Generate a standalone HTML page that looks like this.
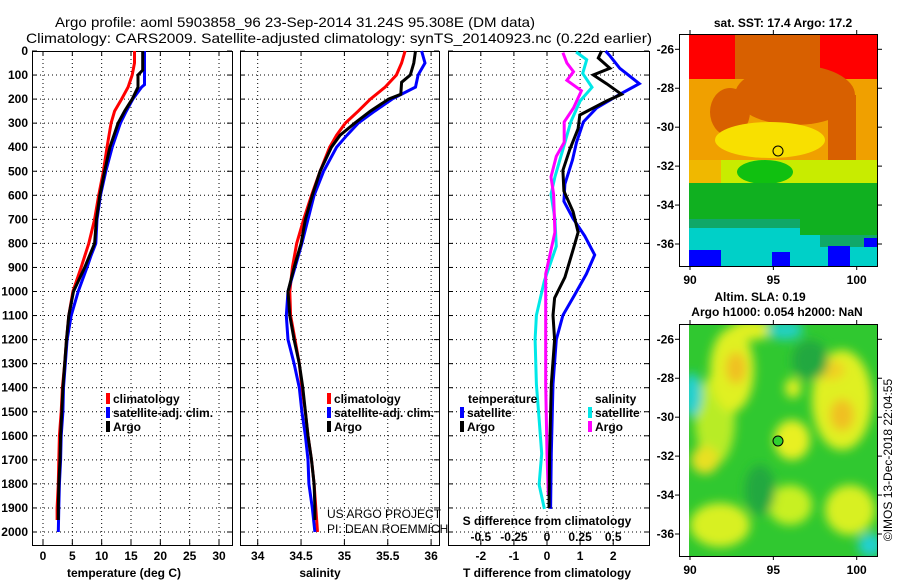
<!DOCTYPE html>
<html><head><meta charset="utf-8"><style>
html,body{margin:0;padding:0;background:#fff;}
svg{display:block;font-family:"Liberation Sans",sans-serif;}
.tk{font-size:12px;font-weight:bold;fill:#000;}
.lg{font-size:12px;font-weight:bold;fill:#000;}
</style></head><body>
<svg id="chart" width="900" height="580" viewBox="0 0 900 580" xmlns="http://www.w3.org/2000/svg">
<defs><filter id="bl" x="-20%" y="-20%" width="140%" height="140%"><feGaussianBlur stdDeviation="5"/></filter>
<clipPath id="cm1"><rect x="689" y="35" width="188" height="231"/></clipPath>
<clipPath id="cm2"><rect x="689" y="325" width="188" height="231"/></clipPath></defs>
<rect width="900" height="580" fill="#fff"/>
<text x="55" y="27" font-size="14" textLength="480" lengthAdjust="spacingAndGlyphs">Argo profile: aoml 5903858_96 23-Sep-2014 31.24S 95.308E (DM data)</text>
<text x="26" y="43" font-size="14" textLength="626" lengthAdjust="spacingAndGlyphs">Climatology: CARS2009. Satellite-adjusted climatology: synTS_20140923.nc (0.22d earlier)</text>

<!-- top map -->
<g clip-path="url(#cm1)">
<rect x="689" y="35" width="188" height="231" fill="#f0a000"/>
<rect x="689" y="35" width="188" height="44" fill="#ff0000"/>
<rect x="735" y="35" width="85" height="44" fill="#d86000"/>
<ellipse cx="795" cy="95" rx="60" ry="30" fill="#d86000"/>
<ellipse cx="730" cy="112" rx="20" ry="24" fill="#d86000"/>
<rect x="828" y="95" width="28" height="65" fill="#d86000"/>
<ellipse cx="770" cy="140" rx="55" ry="18" fill="#f8e000"/>
<rect x="689" y="160" width="188" height="24" fill="#c8ec00"/>
<rect x="689" y="160" width="32" height="24" fill="#f0b800"/>
<ellipse cx="765" cy="172" rx="28" ry="12" fill="#10c010"/>
<rect x="689" y="183" width="188" height="36" fill="#10b020"/>
<rect x="689" y="219" width="188" height="12" fill="#10a868"/>
<rect x="689" y="228" width="188" height="38" fill="#00d0c8"/>
<rect x="800" y="205" width="77" height="30" fill="#10b020"/>
<rect x="820" y="235" width="57" height="12" fill="#10a868"/>
<rect x="689" y="250" width="32" height="16" fill="#0000ff"/>
<rect x="772" y="252" width="18" height="14" fill="#0000ff"/>
<rect x="828" y="246" width="22" height="20" fill="#0000ff"/>
<rect x="864" y="238" width="13" height="9" fill="#0000ff"/>
</g>
<circle cx="778" cy="151" r="5" fill="none" stroke="#000" stroke-width="1"/>
<!-- bottom map -->
<g clip-path="url(#cm2)">
<rect x="689" y="325" width="188" height="231" fill="#30c830"/>
<g filter="url(#bl)">
<ellipse cx="715" cy="420" rx="20" ry="45" fill="#b8ec28"/>
<ellipse cx="732" cy="370" rx="22" ry="42" fill="#e0f020"/>
<ellipse cx="736" cy="368" rx="10" ry="16" fill="#f0c020"/>
<ellipse cx="752" cy="330" rx="22" ry="10" fill="#e0f020"/>
<ellipse cx="842" cy="400" rx="30" ry="50" fill="#e0f020"/>
<ellipse cx="842" cy="415" rx="12" ry="16" fill="#f0c020"/>
<ellipse cx="830" cy="370" rx="15" ry="10" fill="#f0d020"/>
<ellipse cx="792" cy="440" rx="18" ry="20" fill="#e8f020"/>
<ellipse cx="793" cy="388" rx="8" ry="10" fill="#e0f020"/>
<ellipse cx="720" cy="525" rx="30" ry="22" fill="#d8f020"/>
<ellipse cx="705" cy="460" rx="14" ry="14" fill="#e8e020"/>
<ellipse cx="850" cy="510" rx="25" ry="25" fill="#d8f020"/>
<ellipse cx="790" cy="505" rx="22" ry="20" fill="#c8f020"/>
<ellipse cx="760" cy="490" rx="15" ry="25" fill="#20a840"/>
<ellipse cx="810" cy="360" rx="18" ry="20" fill="#20a840"/>
<ellipse cx="692" cy="395" rx="10" ry="22" fill="#20d0d0"/>
<ellipse cx="785" cy="330" rx="18" ry="10" fill="#20d0c0"/>
<ellipse cx="870" cy="545" rx="12" ry="12" fill="#20d0d0"/>
</g></g>
<circle cx="778" cy="441" r="5" fill="#30d030" stroke="#000" stroke-width="1"/>
<g id="axes"></g>
<text x="783" y="27" font-size="12" font-weight="bold" text-anchor="middle">sat. SST: 17.4 Argo: 17.2</text>
<text x="760" y="301" font-size="12" font-weight="bold" text-anchor="middle">Altim. SLA: 0.19</text>
<text x="777" y="316" font-size="12" font-weight="bold" text-anchor="middle">Argo h1000: 0.054 h2000: NaN</text>
<text transform="translate(892,460) rotate(-90)" font-size="12" text-anchor="middle">©IMOS 13-Dec-2018 22:04:55</text>
<text x="327" y="518" font-size="12" fill="#000">US ARGO PROJECT</text>
<text x="327" y="533" font-size="12" fill="#000">PI: DEAN ROEMMICH</text>
</svg>
<script>
// ---- data ----
var tClimDepth=[0,50,100,150,200,250,300,400,500,600,700,800,900,1000,1100,1200,1300,1400,1500,1600,1700,1800,1900,1950];
var tClim=[15.6,15.6,15.2,14.5,13.4,12.2,11.6,10.9,10.3,9.5,8.8,7.8,6.5,5.1,4.4,4.0,3.7,3.3,3.1,2.8,2.7,2.6,2.4,2.4];
var tSatDepth=[0,50,100,140,150,200,250,300,400,500,600,700,800,850,900,1000,1100,1200,1300,1400,1500,1600,1700,1800,1900,2000];
var tSat=[17.3,17.3,17.3,17.3,16.8,15.3,14.2,13.2,11.8,10.7,9.8,9.2,9.0,8.2,7.5,6.0,4.8,4.1,3.8,3.5,3.4,3.1,3.0,2.8,2.7,2.6];
var tArgoDepth=[0,80,100,150,200,250,300,400,500,600,700,800,900,1000,1100,1200,1300,1400,1500,1600,1700,1800,1900,1950];
var tArgo=[17.0,17.0,16.2,16.2,15.2,13.9,12.8,11.4,10.5,9.7,9.1,8.8,7.1,5.2,4.4,4.0,3.7,3.4,3.2,3.0,2.9,2.7,2.6,2.6];
var sDepth=[0,50,100,150,200,250,300,350,400,500,600,700,800,900,1000,1100,1200,1300,1400,1500,1600,1700,1800,1900,2000];
var sClim=[35.70,35.66,35.60,35.47,35.30,35.16,35.01,34.91,34.83,34.72,34.62,34.53,34.45,34.40,34.37,34.38,34.43,34.48,34.51,34.55,34.58,34.62,34.65,34.67,34.69];
var sSat=[35.89,35.93,35.85,35.82,35.55,35.35,35.16,35.03,34.91,34.76,34.65,34.58,34.51,34.43,34.35,34.33,34.35,34.42,34.48,34.51,34.55,34.58,34.59,34.63,34.66];
var sArgoDepth=[0,50,100,130,180,200,250,300,350,400,500,600,700,800,900,1000,1100,1200,1300,1400,1500,1600,1700,1800,1900,1950];
var sArgo=[35.82,35.80,35.76,35.66,35.65,35.51,35.30,35.12,34.95,34.85,34.72,34.63,34.55,34.50,34.42,34.35,34.37,34.42,34.48,34.52,34.55,34.58,34.62,34.65,34.66,34.66];
var dTSatDepth=[0,20,72,136,180,237,295,380,453,553,625,697,769,848,927,1013,1099,1200,1386,1674,1904];
var dTSat=[1.77,1.9,2.2,2.79,2.2,1.5,1.1,0.89,0.77,0.54,0.51,0.79,1.14,1.44,1.19,0.84,0.48,0.28,0.18,0.13,0.11];
var dTArgoDepth=[0,29,72,100,136,180,208,266,323,409,496,582,668,754,826,941,1027,1099,1200,1386,1674,1900];
var dTArgo=[1.65,1.55,1.9,1.4,1.8,2.25,1.8,0.99,0.94,0.69,0.48,0.51,0.79,0.94,0.79,0.54,0.23,0.18,0.23,0.13,0.08,0.06];
var dSSatDepth=[4,36,93,151,208,295,409,524,596,697,812,955,1099,1200,1386,1530,1674,1803,1904];
var dSSat=[0.22,0.30,0.27,0.34,0.25,0.18,0.12,0.06,0.03,0.06,0.07,-0.02,-0.08,-0.09,-0.08,-0.06,-0.04,-0.06,-0.02];
var dSArgoDepth=[7,50,86,122,165,237,295,380,438,524,596,754,927,1099,1386,1674,1846];
var dSArgo=[0.12,0.15,0.20,0.15,0.26,0.20,0.13,0.13,0.07,0.03,0.05,0.06,-0.01,-0.01,-0.01,0,0.01];
var depthTicks=[0,100,200,300,400,500,600,700,800,900,1000,1100,1200,1300,1400,1500,1600,1700,1800,1900,2000];
var tTicks=[0,5,10,15,20,25,30];
var sTicks=[34,34.5,35,35.5,36];
var sTickLabels=["34","34.5","35","35.5","36"];
var dTTicks=[-2,-1,0,1,2];
var dSTicks=[-0.5,-0.25,0,0.25,0.5];
var dSTickLabels=["-0.5","-0.25","0","0.25","0.5"];
var latTicks=[-26,-28,-30,-32,-34,-36];
var lonTicks=[90,95,100];

// ---- scales ----
function yD(d){return 51+d*0.2405;}
function xT(t){return 43+t*5.867;}
function xS(s){return 257.7+(s-34)*86.7;}
function xDT(t){return 547+t*33.1;}
function xDS(s){return 547+s*132.4;}
function yLat1(l){return 49.3+(-26-l)*19.47;}
function yLat2(l){return 339.3+(-26-l)*19.47;}
function xLon(l){return 690+(l-90)*16.67;}

var NS="http://www.w3.org/2000/svg";
var root=document.getElementById('axes');
function mk(tag,at,parent){var e=document.createElementNS(NS,tag);for(var k in at)e.setAttribute(k,at[k]);(parent||root).appendChild(e);return e;}
function txt(x,y,s,cls,anchor,parent){var e=mk('text',{x:x,y:y,'class':cls,'text-anchor':anchor||'middle'},parent);e.textContent=s;return e;}

function panel(name,x0,x1,xs,xticks,xlabels,xscale,leftLabels){
  var g=mk('g',{});
  
  
  var y0=51,y1=545;
  depthTicks.forEach(function(d){
    var y=yD(d);
    if(d>0){var gl=mk('line',{x1:x0,x2:x1,y1:y,y2:y,stroke:'#000','stroke-width':1,'stroke-dasharray':'1,3'},g);
    
    }
    mk('line',{x1:x0,x2:x0+5,y1:y,y2:y,stroke:'#000'},g);
    mk('line',{x1:x1,x2:x1-5,y1:y,y2:y,stroke:'#000'},g);
    if(leftLabels){var t=txt(x0-4,y+4,String(d),'tk','end',g);
    
    }
  });
  xticks.forEach(function(v,i){
    var x=xscale(v);
    var gl=mk('line',{x1:x,x2:x,y1:y0,y2:y1,stroke:'#000','stroke-dasharray':'1,3'},g);
    
    
    mk('line',{x1:x,x2:x,y1:y1,y2:y1-5,stroke:'#000'},g);
    mk('line',{x1:x,x2:x,y1:y0,y2:y0+5,stroke:'#000'},g);
    if(xlabels){var t=txt(x,560,xlabels[i],'tk','middle',g);
    
    }
  });
  var fr=mk('rect',{x:x0+0.5,y:y0+0.5,width:x1-x0,height:y1-y0,fill:'none',stroke:'#000'},g);
  
  
  return g;
}
function line(g,name,depths,vals,xs,color,w){
  var p=depths.map(function(d,i){return xs(vals[i]).toFixed(1)+','+yD(d).toFixed(1);}).join(' ');
  var e=mk('polyline',{points:p,fill:'none',stroke:color,'stroke-width':w,'stroke-linejoin':'miter'},g);
  
  
}
function legend(g,x,y,color,label){
  var m=mk('rect',{x:x-2,y:y-6,width:4,height:11,fill:color},g);
  
  
  var t=txt(x+5,y+4,label,'lg','start',g);
  
  
}

// temperature panel
var gT=panel('temperature-panel',32,232,null,tTicks,tTicks.map(String),xT,true);
line(gT,'temperature-climatology-line',tClimDepth,tClim,xT,'#ff0000',3);
line(gT,'temperature-satellite-line',tSatDepth,tSat,xT,'#0000ff',3);
line(gT,'temperature-argo-line',tArgoDepth,tArgo,xT,'#000000',3);
legend(gT,108,399,'#ff0000','climatology');
legend(gT,108,413,'#0000ff','satellite-adj. clim.');
legend(gT,108,427,'#000000','Argo');
var a=txt(124,577,'temperature (deg C)','tk','middle',gT);



// salinity panel
var gS=panel('salinity-panel',240,439,null,sTicks,sTickLabels,xS,false);
line(gS,'salinity-climatology-line',sDepth,sClim,xS,'#ff0000',3);
line(gS,'salinity-satellite-line',sDepth,sSat,xS,'#0000ff',3);
line(gS,'salinity-argo-line',sArgoDepth,sArgo,xS,'#000000',3);
legend(gS,329,399,'#ff0000','climatology');
legend(gS,329,413,'#0000ff','satellite-adj. clim.');
legend(gS,329,427,'#000000','Argo');
a=txt(320,577,'salinity','tk','middle',gS);



// difference panel
var gD=panel('difference-panel',448,649,null,dTTicks,dTTicks.map(String),xDT,false);
line(gD,'salinity-satellite-diff-line',dSSatDepth,dSSat,xDS,'#00e8e8',3);
line(gD,'salinity-argo-diff-line',dSArgoDepth,dSArgo,xDS,'#ff00ff',3);
line(gD,'temperature-satellite-diff-line',dTSatDepth,dTSat,xDT,'#0000ff',3);
line(gD,'temperature-argo-diff-line',dTArgoDepth,dTArgo,xDT,'#000000',3);
a=txt(468,403,'temperature','lg','start',gD);


a=txt(595,403,'salinity','lg','start',gD);


legend(gD,462,413,'#0000ff','satellite');
legend(gD,462,427,'#000000','Argo');
legend(gD,590,413,'#00e8e8','satellite');
legend(gD,590,427,'#ff00ff','Argo');
a=txt(547,525,'S difference from climatology','tk','middle',gD);


dSTicks.forEach(function(v,i){
  var t=txt(xDS(v),541,dSTickLabels[i],'tk','middle',gD);
  
  
});
a=txt(547,577,'T difference from climatology','tk','middle',gD);



// map axes
function mapAxes(name,y0,y1,yl){
  var g=mk('g',{});
  
  
  var fr=mk('rect',{x:679.5,y:y0+0.5,width:198,height:y1-y0,fill:'none',stroke:'#000'},g);
  
  
  latTicks.forEach(function(l){
    var y=yl(l);
    mk('line',{x1:675,x2:680,y1:y,y2:y,stroke:'#000'},g);
    mk('line',{x1:877,x2:882,y1:y,y2:y,stroke:'#000'},g);
    var t=txt(674,y+4,String(l),'tk','end',g);
    
    
  });
  lonTicks.forEach(function(l){
    var x=xLon(l);
    mk('line',{x1:x,x2:x,y1:y1,y2:y1+4,stroke:'#000'},g);
    mk('line',{x1:x,x2:x,y1:y0,y2:y0-4,stroke:'#000'},g);
    var t=txt(x,y1+18,String(l),'tk','middle',g);
    
    
  });
}
mapAxes('sst-map-axes',34,266,yLat1);
mapAxes('sla-map-axes',324,556,yLat2);
</script>
</body></html>
